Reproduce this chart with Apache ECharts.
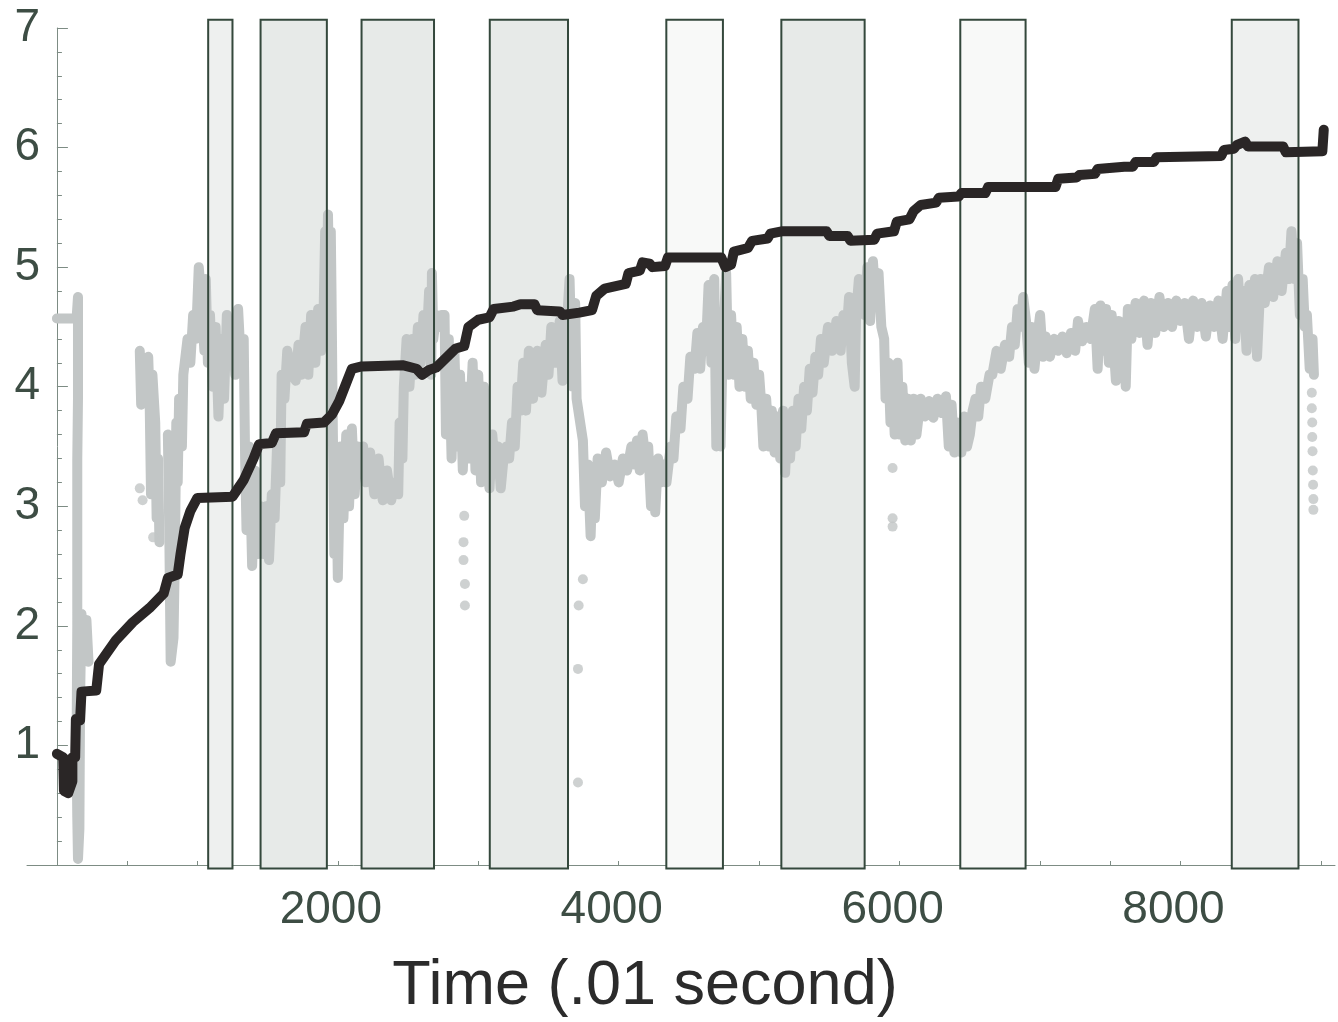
<!DOCTYPE html>
<html><head><meta charset="utf-8">
<script src="https://cdn.jsdelivr.net/npm/echarts@6/dist/echarts.min.js"></script>
<style>html,body{margin:0;padding:0;background:#fff}#c{width:1338px;height:1022px}</style>
</head><body><div id="c"></div>
<script>
// ---- data (time in .01 s, value) ----
const blackSeries = [[0,0.93],[45,0.9],[50,0.62],[80,0.6],[110,0.7],[110,0.9],[130,0.9],[135,1.22],[165,1.21],[175,1.45],[280,1.46],[300,1.68],[420,1.88],[540,2.03],[660,2.15],[760,2.27],[790,2.4],[860,2.43],[880,2.6],[910,2.82],[950,2.96],[1000,3.07],[1250,3.08],[1290,3.15],[1330,3.22],[1400,3.4],[1440,3.52],[1530,3.53],[1560,3.61],[1760,3.62],[1780,3.69],[1900,3.7],[1960,3.77],[2010,3.88],[2060,4.03],[2100,4.15],[2170,4.17],[2460,4.18],[2560,4.15],[2600,4.1],[2650,4.14],[2700,4.16],[2840,4.32],[2900,4.34],[2930,4.5],[3000,4.56],[3080,4.58],[3110,4.65],[3250,4.67],[3300,4.69],[3400,4.69],[3420,4.64],[3580,4.63],[3600,4.6],[3720,4.62],[3810,4.64],[3840,4.76],[3900,4.82],[4050,4.86],[4070,4.95],[4150,4.97],[4170,5.04],[4220,5.03],[4240,5.0],[4330,5.01],[4350,5.08],[4730,5.08],[4760,5.0],[4800,5.02],[4820,5.13],[4920,5.16],[4950,5.22],[5060,5.24],[5080,5.28],[5160,5.3],[5480,5.3],[5500,5.26],[5630,5.26],[5650,5.22],[5820,5.23],[5840,5.28],[5960,5.3],[5980,5.38],[6070,5.4],[6100,5.47],[6150,5.52],[6260,5.54],[6280,5.58],[6420,5.59],[6440,5.62],[6610,5.62],[6630,5.67],[7110,5.67],[7130,5.74],[7260,5.75],[7280,5.77],[7390,5.78],[7410,5.82],[7600,5.84],[7660,5.84],[7680,5.88],[7810,5.88],[7830,5.92],[8290,5.93],[8310,5.98],[8380,5.99],[8400,6.02],[8460,6.05],[8480,6.01],[8730,6.01],[8750,5.96],[9010,5.97],[9020,6.15]];

const graySeg1 = [[0,4.57],[140,4.57],[150,4.75],[150,3.9],[145,3.4],[145,2.0],[140,1.0],[145,0.4],[150,0.05],[160,0.3],[165,1.4],[175,2.1],[190,1.7],[210,2.05],[225,1.7]];
const graySeg2 = [[590,4.3],[600,3.85],[610,4.2],[650,4.25],[660,3.9],[670,3.1],[680,4.1],[700,3.7],[710,2.9],[720,3.4],[730,2.7]];
const graySeg3 = [[790,3.6],[800,2.8],[810,1.7],[830,1.9],[840,2.6],[850,3.7],[860,3.2],[870,3.9],[890,3.5],[900,4.1],[930,4.4],[950,4.2],[970,4.6],[990,4.4],[1010,5.0],[1030,4.7],[1050,4.3],[1060,4.9],[1075,4.2],[1090,4.6],[1110,4.0],[1130,4.5],[1150,3.75],[1170,4.4],[1190,3.9],[1210,4.6],[1230,4.2],[1250,4.55],[1270,4.1],[1290,4.65],[1310,4.2],[1330,4.4],[1340,3.4],[1350,2.8],[1370,3.5],[1390,2.5],[1410,3.3],[1430,2.6],[1450,3.0],[1470,2.6],[1490,3.0],[1510,2.55],[1530,3.1],[1550,2.9],[1570,3.6],[1590,3.2],[1600,4.1],[1620,3.9],[1640,4.3],[1680,4.1],[1700,4.05],[1720,4.35],[1740,4.1],[1770,4.5],[1790,4.1],[1810,4.6],[1840,4.2],[1860,4.65],[1880,4.3],[1900,4.7],[1910,5.3],[1920,4.6],[1930,5.44],[1940,4.7],[1950,5.3],[1955,4.8],[1965,3.6],[1975,2.6],[1990,3.3],[2000,2.4],[2020,3.5],[2040,2.9],[2060,3.6],[2080,3.0],[2100,3.65],[2120,3.1],[2140,3.5],[2160,3.3],[2180,3.5],[2200,3.2],[2230,3.45],[2260,3.1],[2290,3.4],[2320,3.05],[2350,3.3],[2380,3.05],[2410,3.2],[2430,3.1],[2440,3.7],[2460,3.4],[2470,4.0],[2490,4.4],[2510,4.0],[2530,4.4],[2550,4.1],[2570,4.5],[2590,4.2],[2610,4.6],[2630,4.3],[2650,4.8],[2665,4.1],[2670,4.95],[2680,4.4],[2700,4.6],[2720,4.5],[2740,4.6],[2760,4.6],[2770,3.6],[2790,4.4],[2810,3.4],[2830,4.3],[2850,3.5],[2870,4.1],[2890,3.3],[2910,4.0],[2930,3.4],[2960,4.2],[2980,3.3],[3000,4.1],[3020,3.2],[3040,4.0],[3060,3.4],[3080,3.15],[3100,3.6],[3120,3.3],[3140,3.5],[3160,3.15],[3180,3.4],[3200,3.5],[3220,3.4],[3240,3.7],[3260,3.5],[3280,4.0],[3300,3.8],[3320,4.2],[3340,3.8],[3360,4.3],[3390,3.9],[3420,4.3],[3450,3.95],[3480,4.35],[3500,4.1],[3520,4.5],[3550,4.2],[3580,4.55],[3600,4.05],[3630,4.5],[3650,4.9],[3670,4.0],[3690,4.7],[3700,3.9],[3745,3.55],[3760,3.0],[3780,3.35],[3800,2.75],[3815,3.3],[3830,2.9],[3850,3.4],[3880,3.2],[3910,3.45],[3940,3.25],[3970,3.35],[4000,3.2],[4030,3.4],[4060,3.3],[4090,3.5],[4110,3.35],[4130,3.55],[4150,3.3],[4170,3.6],[4190,3.4],[4210,3.5],[4230,3.0],[4250,3.2],[4260,2.95],[4280,3.4],[4300,3.2],[4320,3.35],[4340,3.2],[4370,3.5],[4390,3.4],[4410,3.75],[4440,3.65],[4460,4.0],[4490,3.9],[4510,4.25],[4540,4.15],[4560,4.45],[4580,4.15],[4600,4.5],[4620,4.3],[4640,4.85],[4660,4.2],[4680,4.9],[4695,3.5],[4710,4.6],[4725,3.5],[4740,4.3],[4765,4.95],[4780,4.1],[4800,4.6],[4820,4.1],[4840,4.5],[4860,4.0],[4880,4.4],[4900,4.0],[4920,4.3],[4940,3.9],[4960,4.2],[4980,3.85],[5000,4.1],[5015,3.85],[5030,3.5],[5050,3.9],[5070,3.5],[5090,3.8],[5110,3.45],[5130,3.75],[5150,3.4],[5170,3.8],[5185,3.28],[5200,3.7],[5220,3.4],[5240,3.8],[5260,3.5],[5280,3.9],[5300,3.65],[5320,4.0],[5340,3.8],[5360,4.15],[5380,3.95],[5400,4.25],[5420,4.1],[5440,4.4],[5460,4.2],[5490,4.5],[5520,4.3],[5550,4.55],[5580,4.3],[5600,4.6],[5620,4.4],[5640,4.75],[5660,4.2],[5680,4.0],[5690,4.6],[5710,4.9],[5730,4.7],[5750,4.6],[5770,5.0],[5790,4.55],[5810,5.05],[5830,4.7],[5850,4.95],[5870,4.5],[5890,4.4],[5900,3.9],[5920,4.2],[5935,3.7],[5950,4.0],[5965,3.6],[5985,4.2],[6000,3.6],[6020,4.0],[6040,3.55],[6060,3.9],[6080,3.55],[6100,3.9],[6120,3.6],[6150,3.9],[6180,3.75],[6210,3.88],[6240,3.74],[6270,3.9],[6300,3.78],[6330,3.92],[6350,3.5],[6370,3.85],[6390,3.45],[6410,3.7],[6440,3.45],[6460,3.75],[6480,3.5],[6500,3.6],[6520,3.8],[6540,3.9],[6560,3.75],[6580,4.0],[6610,3.9],[6640,4.1],[6660,4.1],[6690,4.3],[6720,4.15],[6750,4.35],[6780,4.25],[6800,4.5],[6820,4.35],[6840,4.65],[6860,4.5],[6880,4.75],[6900,4.55],[6920,4.2],[6940,4.5],[6960,4.15],[6980,4.4],[7000,4.6],[7020,4.25],[7040,4.42],[7070,4.25],[7100,4.4],[7130,4.3],[7160,4.42],[7190,4.28],[7220,4.45],[7250,4.3],[7270,4.55],[7300,4.38],[7330,4.5],[7360,4.4],[7390,4.65],[7410,4.15],[7430,4.68],[7450,4.3],[7470,4.65],[7490,4.2],[7510,4.6],[7540,4.05],[7560,4.55],[7580,4.1],[7600,4.5],[7610,4.0],[7625,4.65],[7650,4.4],[7680,4.7],[7710,4.45],[7740,4.72],[7765,4.35],[7790,4.7],[7820,4.45],[7850,4.75],[7880,4.5],[7910,4.7],[7940,4.5],[7970,4.72],[8000,4.55],[8030,4.7],[8060,4.4],[8090,4.72],[8120,4.5],[8150,4.7],[8180,4.42],[8210,4.68],[8240,4.5],[8270,4.72],[8300,4.4],[8330,4.8],[8350,4.5],[8370,4.85],[8390,4.4],[8410,4.9],[8430,4.5],[8450,4.8],[8470,4.3],[8490,4.85],[8510,4.5],[8530,4.9],[8545,4.25],[8570,4.9],[8600,4.7],[8630,5.0],[8660,4.75],[8690,5.05],[8720,4.8],[8750,5.12],[8770,4.9],[8790,5.3],[8810,4.9],[8830,5.2],[8850,4.6],[8870,4.9],[8885,4.5],[8900,4.6],[8920,4.15],[8940,4.4],[8950,4.1]];
const graySegments = [graySeg1, graySeg2, graySeg3];

const grayDots = [[590,3.15],[610,3.05],[685,2.74],[2900,2.92],[2895,2.7],[2895,2.55],[2905,2.35],[2905,2.17],[3745,2.39],[3715,2.17],[3710,1.64],[3710,0.69],[5950,3.32],[5950,2.9],[5950,2.83],[8935,3.95],[8935,3.82],[8938,3.7],[8938,3.58],[8940,3.46],[8942,3.3],[8944,3.18],[8946,3.06],[8946,2.97]];

const boxStart = [1077,1450,2169,3082,4339,5158,6432,8365];
const boxEnd   = [1250,1922,2685,3639,4742,5751,6897,8840];

const xTickValues = [500,1000,1500,2000,2500,3000,3500,4000,4500,5000,5500,6000,6500,7000,7500,8000,8500,9000];
const xLabelValues = [2000,4000,6000,8000];
const yLabelValues = [1,2,3,4,5,6,7];
const xTitle = 'Time (.01 second)';

// ---- styling ----
const boxFills = ['#eef0ef','#e7eae8','#e7eae8','#e7eae8','#f8f9f8','#e7eae8','#f8f9f8','#eef0ef'];
const BOX_TOP = 7.07, BOX_BOTTOM = -0.03;
const AXIS_COLOR = '#7d8c84';
const LABEL_COLOR = '#3d4d44';
const FONT = "'Liberation Sans', Arial, sans-serif";

const chart = echarts.init(document.getElementById('c'), null, {renderer:'canvas'});

const series = [];
series.push({
  type:'custom', z:1, clip:false, silent:true, animation:false,
  data: boxStart.map((s,i)=>[s, boxEnd[i], i]),
  renderItem: (params, api) => {
    const p0 = api.coord([api.value(0), BOX_TOP]);
    const p1 = api.coord([api.value(1), BOX_BOTTOM]);
    return {type:'rect', shape:{x:p0[0], y:p0[1], width:p1[0]-p0[0], height:p1[1]-p0[1]},
      style:{fill: boxFills[api.value(2)], stroke:null}};
  }
});
graySegments.forEach(seg => series.push({
  type:'line', data: seg, showSymbol:false, symbol:'none', z:2, silent:true,
  lineStyle:{color:'#c2c6c6', width:10, cap:'round', join:'round'}, animation:false
}));
series.push({
  type:'scatter', data: grayDots, symbolSize:10, z:2, silent:true,
  itemStyle:{color:'#c2c6c6'}, animation:false
});
series.push({
  type:'custom', z:3, clip:false, silent:true, animation:false,
  data: boxStart.map((s,i)=>[s, boxEnd[i], i]),
  renderItem: (params, api) => {
    const p0 = api.coord([api.value(0), BOX_TOP]);
    const p1 = api.coord([api.value(1), BOX_BOTTOM]);
    return {type:'rect', shape:{x:p0[0], y:p0[1], width:p1[0]-p0[0], height:p1[1]-p0[1]},
      style:{fill: null, stroke:'#34483c', lineWidth:2}};
  }
});
series.push({
  type:'line', data: blackSeries, showSymbol:false, symbol:'none', z:4, silent:true,
  lineStyle:{color:'#2a2626', width:10, cap:'round', join:'round'}, animation:false
});

chart.setOption({
  backgroundColor:'#ffffff',
  animation:false,
  grid:{left:27, right:3, top:28, bottom:157, containLabel:false, outerBoundsMode:'none'},
  xAxis:{
    type:'value', min:-213, max:9100,
    splitLine:{show:false},
    axisLine:{show:true, onZero:true, lineStyle:{color:AXIS_COLOR, width:1}},
    axisTick:{show:true, inside:true, length:4, customValues:xTickValues, lineStyle:{color:AXIS_COLOR}},
    axisLabel:{show:true, customValues:xLabelValues, formatter:v=>String(v), margin:22, color:LABEL_COLOR, fontSize:46, fontFamily:FONT, padding:[0,14,0,0]}
  },
  yAxis:{
    type:'value', min:0, max:7, interval:1,
    splitLine:{show:false},
    axisLine:{show:true, onZero:true, lineStyle:{color:AXIS_COLOR, width:1}},
    axisTick:{show:true, inside:true, length:11, lineStyle:{color:AXIS_COLOR}},
    minorTick:{show:true, splitNumber:5, length:5, lineStyle:{color:AXIS_COLOR}},
    axisLabel:{show:true, customValues:yLabelValues, formatter:v=>String(v), margin:-13, color:LABEL_COLOR, fontSize:46, fontFamily:FONT}
  },
  graphic:[{type:'text', style:{text:xTitle, x:645, y:987, align:'center', verticalAlign:'middle', font:"63px 'Liberation Sans', Arial, sans-serif", fill:'#2b2b2b'}}],
  series
});
</script></body></html>
